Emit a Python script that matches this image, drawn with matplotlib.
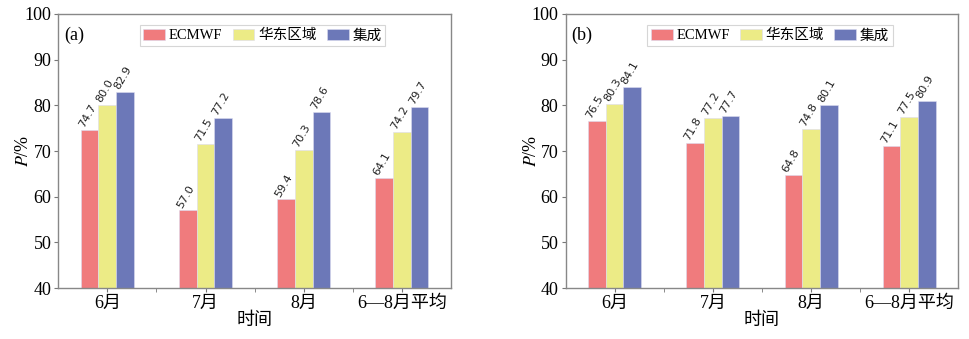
import numpy as np
import matplotlib.pyplot as plt
from matplotlib.ticker import MultipleLocator

plt.rcParams['font.family'] = ['Liberation Serif', 'Noto Sans CJK SC']
plt.rcParams['mathtext.fontset'] = 'stix'

# data
months = ['6月', '7月', '8月', '6—8月平均']
series = ['ECMWF', '华东区域', '集成']
a_ecmwf = [74.7, 57.0, 59.4, 64.1]
a_east = [80.0, 71.5, 70.3, 74.2]
a_ens = [82.9, 77.2, 78.6, 79.7]
b_ecmwf = [76.5, 71.8, 64.8, 71.1]
b_east = [80.3, 77.2, 74.8, 77.5]
b_ens = [84.1, 77.7, 80.1, 80.9]

colors = ['#F07B7D', '#ECEB86', '#6C78B8']

fig = plt.figure(figsize=(9.7, 3.39), dpi=100)
ax1 = fig.add_axes([0.060, 0.150, 0.405, 0.809])
ax2 = fig.add_axes([0.583, 0.150, 0.405, 0.809])

def draw(ax, data, tag):
    x = np.arange(len(months))
    w = 0.18
    for i, (vals, c, name) in enumerate(zip(data, colors, series)):
        xs = x + (i - 1) * w
        ax.bar(xs, vals, w, color=c, edgecolor='#dcdcf0', linewidth=0.4, label=name, zorder=2)
        for xx, v in zip(xs, vals):
            ax.text(xx - 0.04, v + 0.2, f'{v:.1f}', rotation=60, ha='left', va='bottom',
                    fontsize=8, family=['DejaVu Sans'], color='#222222', rotation_mode='anchor')
    ax.set_xlim(-0.5, 3.5)
    ax.set_ylim(40, 100)
    ax.yaxis.set_major_locator(MultipleLocator(10))
    ax.set_xticks(x)
    ax.set_xticklabels(months, fontsize=13)
    ax.set_xticks(np.arange(0.5, 3.5, 1), minor=True)
    ax.tick_params(axis='x', which='minor', length=3, color='#777777')
    ax.tick_params(axis='both', which='major', length=3, color='#777777', labelsize=13, pad=2)
    for s in ax.spines.values():
        s.set_color('#888888')
        s.set_linewidth(1.0)
    ax.set_xlabel('时间', fontsize=13, labelpad=0)
    ax.set_ylabel('$P$/%', fontsize=13)
    ax.yaxis.set_label_coords(-0.066, 0.5)
    ax.text(0.015, 0.955, tag, transform=ax.transAxes, fontsize=13, va='top', ha='left')
    leg = ax.legend(loc='upper center', ncol=3, fontsize=10.5, frameon=True, fancybox=False,
                    bbox_to_anchor=(0.52, 0.985), handlelength=1.5, handleheight=0.75,
                    columnspacing=0.7, handletextpad=0.25, borderpad=0.25)
    leg.get_frame().set_edgecolor('#cccccc')
    leg.get_frame().set_linewidth(0.8)

draw(ax1, [a_ecmwf, a_east, a_ens], '(a)')
draw(ax2, [b_ecmwf, b_east, b_ens], '(b)')

fig.savefig('out.png', dpi=100)
